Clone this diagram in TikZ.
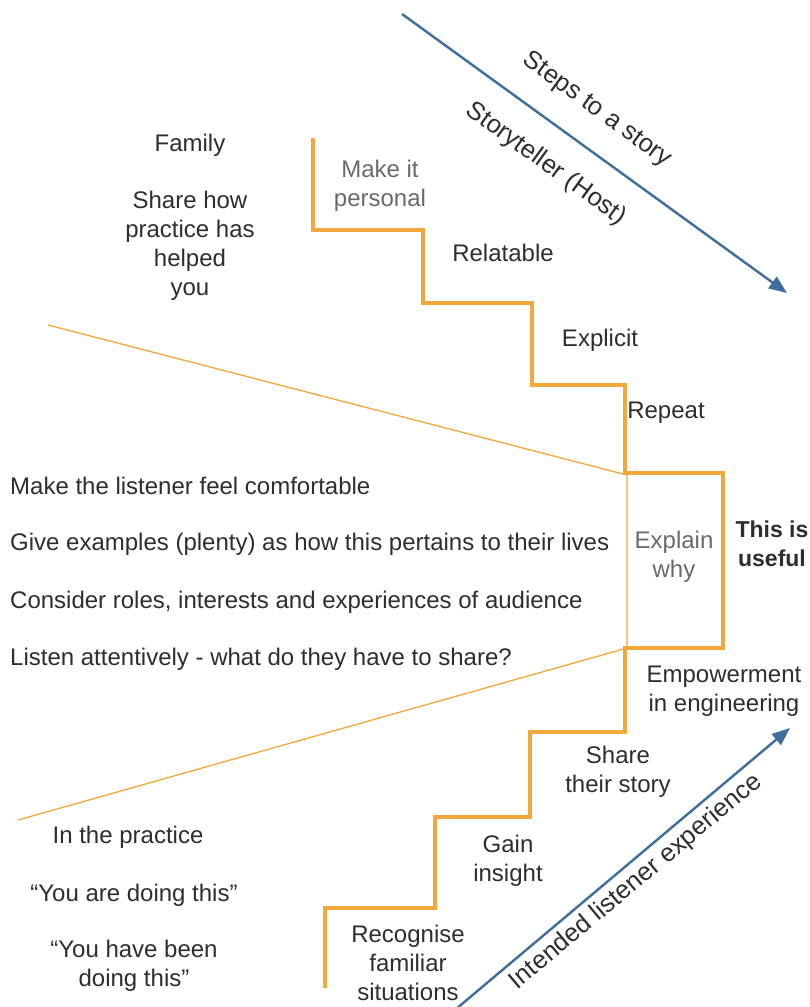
\documentclass[tikz,border=0pt]{standalone}
\usepackage{fontspec}
\setmainfont{Liberation Sans}
\usetikzlibrary{arrows.meta}
\definecolor{stair}{HTML}{F2A83B}
\definecolor{bluearr}{HTML}{3E6E9E}
\definecolor{txt}{HTML}{2E2E2E}
\definecolor{soft}{HTML}{6A6A6A}
\begin{document}
\begin{tikzpicture}[x=1pt,y=-1pt,
  lbl/.style={inner sep=0pt,align=center,text=txt,font=\fontsize{24}{29}\selectfont},
  rotlbl/.style={lbl,font=\fontsize{25.5}{29}\selectfont},
  softlbl/.style={lbl,text=soft},
  listlbl/.style={lbl,anchor=west,align=left},
  stairline/.style={draw=stair,line width=3.5pt,line join=miter},
  thinline/.style={draw=stair,line width=1.3pt},
  bluearrow/.style={draw=bluearr,line width=2.4pt,-{Triangle[length=18pt,width=14pt]}}]
\useasboundingbox (0,0) rectangle (810,1007);
\fill[white] (0,0) rectangle (810,1007);

% staircase
\coordinate (s0) at (313,138);
\coordinate (s1) at (313,230);
\coordinate (s2) at (423,230);
\coordinate (s3) at (423,303);
\coordinate (s4) at (532,303);
\coordinate (s5) at (532,385);
\coordinate (s6) at (625,385);
\coordinate (bt) at (625,473);
\coordinate (btr) at (723,473);
\coordinate (bbr) at (723,648);
\coordinate (bb) at (625,648);
\coordinate (u1) at (625,732);
\coordinate (u2) at (530,732);
\coordinate (u3) at (530,817);
\coordinate (u4) at (435,817);
\coordinate (u5) at (435,908);
\coordinate (u6) at (325,908);
\coordinate (u7) at (325,988);
\draw[stairline] (s0) -- (s1) -- (s2) -- (s3) -- (s4) -- (s5) -- (s6) -- (bt) -- (btr) -- (bbr) -- (bb) -- (u1) -- (u2) -- (u3) -- (u4) -- (u5) -- (u6) -- (u7);

% funnel lines
\coordinate (ft) at (48,325);
\coordinate (fb) at (18,820);
\coordinate (pt) at (627,475);
\coordinate (pb) at (627,648);
\draw[thinline] (ft) -- (pt) -- (pb) -- (fb);

% arrows
\coordinate (a1s) at (402,14);
\coordinate (a1e) at (787,293);
\coordinate (a2s) at (456,1009);
\coordinate (a2e) at (790,728);
\draw[bluearrow] (a1s) -- (a1e);
\draw[bluearrow] (a2s) -- (a2e);

% arrow labels
\node[rotlbl,rotate=-36] (steps) at (597,110) {Steps to a story};
\node[rotlbl,rotate=-36] (host) at (546,164) {Storyteller (Host)};
\node[rotlbl,rotate=40] (intended) at (636,882) {Intended listener experience};

% top left
\node[lbl] (family) at (190,145) {Family};
\node[lbl] (sharehow) at (190,246) {Share how\\practice has\\helped\\you};

% top stairs
\node[softlbl] (personal) at (380,186) {Make it\\personal};
\node[lbl] (relatable) at (503,253) {Relatable};
\node[lbl] (explicit) at (600,340) {Explicit};
\node[lbl] (repeat) at (666,413) {Repeat};

% middle list
\node[listlbl] (comfort) at (10,486) {Make the listener feel comfortable};
\node[listlbl] (examples) at (10,544) {Give examples (plenty) as how this pertains to their lives};
\node[listlbl] (roles) at (10,602) {Consider roles, interests and experiences of audience};
\node[listlbl] (listen) at (10,659) {Listen attentively - what do they have to share?};

\node[softlbl] (explain) at (674,557) {Explain\\why};
\node[lbl,font=\fontsize{23}{29}\selectfont\bfseries] (useful) at (772,544) {This is\\useful};

% bottom stairs
\node[lbl] (empower) at (724,691) {Empowerment\\in engineering};
\node[lbl] (sharestory) at (618,772) {Share\\their story};
\node[lbl] (gain) at (508,861) {Gain\\insight};
\node[lbl] (recog) at (408,963) {Recognise\\familiar\\situations};

% bottom left
\node[lbl] (practice) at (128,837) {In the practice};
\node[lbl] (doing) at (134,895) {``You are doing this''};
\node[lbl] (havebeen) at (134,966) {``You have been\\doing this''};
\end{tikzpicture}
\end{document}
